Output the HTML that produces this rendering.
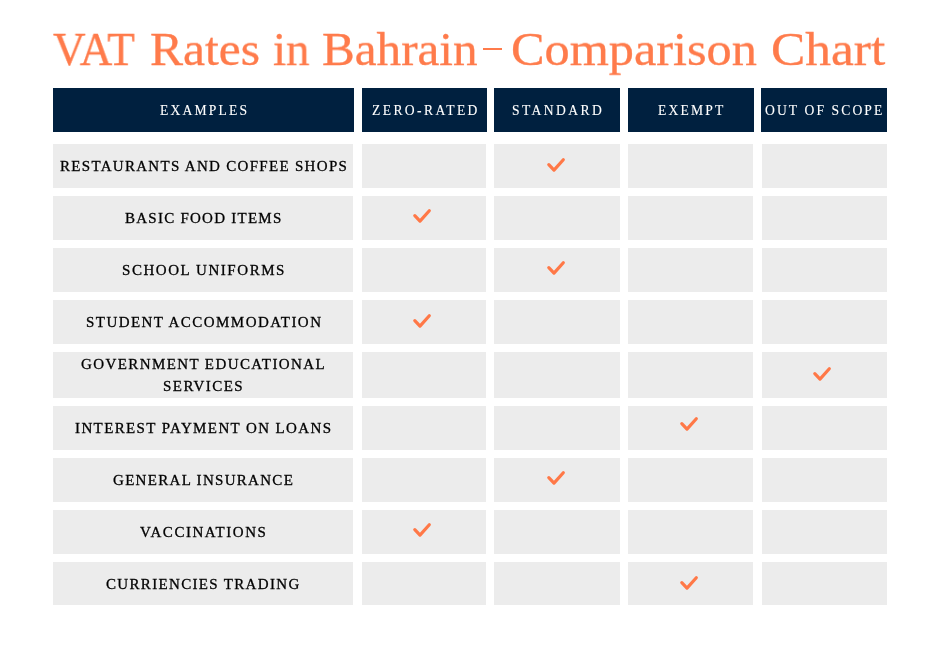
<!DOCTYPE html>
<html><head><meta charset="utf-8"><style>
html,body{margin:0;padding:0;background:#fff;-webkit-font-smoothing:antialiased;}
.c span,.h span,.w{will-change:transform;}
body{width:936px;height:661px;position:relative;overflow:hidden;font-family:"Liberation Serif",serif;}
.w{position:absolute;top:25px;white-space:nowrap;color:#FF7B4B;font-size:48px;line-height:48px;transform-origin:0 40.2px;-webkit-text-stroke:0.35px #FF7B4B;}
.h{position:absolute;background:#00203F;color:#fff;-webkit-text-stroke:0.1px #fff;display:flex;align-items:center;justify-content:center;font-size:13.6px;line-height:16px;}
.h span{position:relative;top:1px;}
.c{position:absolute;background:#ECECEC;-webkit-text-stroke:0.3px #000;display:flex;align-items:center;justify-content:center;text-align:center;color:#000;font-size:15px;letter-spacing:1.3px;line-height:22px;}
.k{position:absolute;width:20px;height:16px;}
</style></head><body>

<div class="w" style="left:53.00px;transform:scale(0.9391,0.97)">VAT</div>
<div class="w" style="left:149.87px;transform:scale(1.0324,0.97)">Rates</div>
<div class="w" style="left:273.20px;transform:scale(0.9811,0.97)">in</div>
<div class="w" style="left:322.38px;transform:scale(1.0238,0.97)">Bahrain</div>
<div class="w" style="left:511.25px;transform:scale(1.0479,0.97)">Comparison</div>
<div class="w" style="left:770.93px;transform:scale(1.0708,0.97)">Chart</div>
<div style="position:absolute;left:483px;top:48px;width:19px;height:2.2px;background:#FF7B4B"></div>
<div class="h" style="left:53px;top:88px;width:301px;height:44px"><span style="letter-spacing:2.2px;margin-right:-2.2px">EXAMPLES</span></div>
<div class="h" style="left:362px;top:88px;width:125px;height:44px"><span style="letter-spacing:2.4px;margin-right:-2.4px">ZERO-RATED</span></div>
<div class="h" style="left:494px;top:88px;width:126px;height:44px"><span style="letter-spacing:2.4px;margin-right:-2.4px">STANDARD</span></div>
<div class="h" style="left:628px;top:88px;width:126px;height:44px"><span style="letter-spacing:2.2px;margin-right:-2.2px">EXEMPT</span></div>
<div class="h" style="left:761px;top:88px;width:126px;height:44px"><span style="letter-spacing:2.1px;margin-right:-2.1px">OUT OF SCOPE</span></div>
<div class="c" style="left:53px;top:144px;width:300px;height:44px"><span style="letter-spacing:1.3px;margin-right:-1.3px">RESTAURANTS AND COFFEE SHOPS</span></div>
<div class="c" style="left:362px;top:144px;width:124px;height:44px"></div>
<div class="c" style="left:494px;top:144px;width:126px;height:44px"></div>
<div class="c" style="left:628px;top:144px;width:125px;height:44px"></div>
<div class="c" style="left:762px;top:144px;width:125px;height:44px"></div>
<div class="c" style="left:53px;top:196px;width:300px;height:44px"><span style="letter-spacing:1.25px;margin-right:-1.25px">BASIC FOOD ITEMS</span></div>
<div class="c" style="left:362px;top:196px;width:124px;height:44px"></div>
<div class="c" style="left:494px;top:196px;width:126px;height:44px"></div>
<div class="c" style="left:628px;top:196px;width:125px;height:44px"></div>
<div class="c" style="left:762px;top:196px;width:125px;height:44px"></div>
<div class="c" style="left:53px;top:248px;width:300px;height:44px"><span style="letter-spacing:1.55px;margin-right:-1.55px">SCHOOL UNIFORMS</span></div>
<div class="c" style="left:362px;top:248px;width:124px;height:44px"></div>
<div class="c" style="left:494px;top:248px;width:126px;height:44px"></div>
<div class="c" style="left:628px;top:248px;width:125px;height:44px"></div>
<div class="c" style="left:762px;top:248px;width:125px;height:44px"></div>
<div class="c" style="left:53px;top:300px;width:300px;height:44px"><span style="letter-spacing:1.45px;margin-right:-1.45px">STUDENT ACCOMMODATION</span></div>
<div class="c" style="left:362px;top:300px;width:124px;height:44px"></div>
<div class="c" style="left:494px;top:300px;width:126px;height:44px"></div>
<div class="c" style="left:628px;top:300px;width:125px;height:44px"></div>
<div class="c" style="left:762px;top:300px;width:125px;height:44px"></div>
<div class="c" style="left:53px;top:352px;width:300px;height:46px"><span style="letter-spacing:1.4px;margin-right:-1.4px">GOVERNMENT EDUCATIONAL<br>SERVICES</span></div>
<div class="c" style="left:362px;top:352px;width:124px;height:46px"></div>
<div class="c" style="left:494px;top:352px;width:126px;height:46px"></div>
<div class="c" style="left:628px;top:352px;width:125px;height:46px"></div>
<div class="c" style="left:762px;top:352px;width:125px;height:46px"></div>
<div class="c" style="left:53px;top:406px;width:300px;height:44px"><span style="letter-spacing:1.38px;margin-right:-1.38px">INTEREST PAYMENT ON LOANS</span></div>
<div class="c" style="left:362px;top:406px;width:124px;height:44px"></div>
<div class="c" style="left:494px;top:406px;width:126px;height:44px"></div>
<div class="c" style="left:628px;top:406px;width:125px;height:44px"></div>
<div class="c" style="left:762px;top:406px;width:125px;height:44px"></div>
<div class="c" style="left:53px;top:458px;width:300px;height:44px"><span style="letter-spacing:1.3px;margin-right:-1.3px">GENERAL INSURANCE</span></div>
<div class="c" style="left:362px;top:458px;width:124px;height:44px"></div>
<div class="c" style="left:494px;top:458px;width:126px;height:44px"></div>
<div class="c" style="left:628px;top:458px;width:125px;height:44px"></div>
<div class="c" style="left:762px;top:458px;width:125px;height:44px"></div>
<div class="c" style="left:53px;top:510px;width:300px;height:44px"><span style="letter-spacing:1.55px;margin-right:-1.55px">VACCINATIONS</span></div>
<div class="c" style="left:362px;top:510px;width:124px;height:44px"></div>
<div class="c" style="left:494px;top:510px;width:126px;height:44px"></div>
<div class="c" style="left:628px;top:510px;width:125px;height:44px"></div>
<div class="c" style="left:762px;top:510px;width:125px;height:44px"></div>
<div class="c" style="left:53px;top:562px;width:300px;height:43px"><span style="letter-spacing:1.33px;margin-right:-1.33px">CURRIENCIES TRADING</span></div>
<div class="c" style="left:362px;top:562px;width:124px;height:43px"></div>
<div class="c" style="left:494px;top:562px;width:126px;height:43px"></div>
<div class="c" style="left:628px;top:562px;width:125px;height:43px"></div>
<div class="c" style="left:762px;top:562px;width:125px;height:43px"></div>
<svg class="k" style="left:545.8px;top:156.9px" viewBox="-1 -1 20 16"><path d="M1.8,6.6 L7.0,12.1 L16.3,1.7" fill="none" stroke="#FF7847" stroke-width="3.2" stroke-linecap="round" stroke-linejoin="round"/></svg>
<svg class="k" style="left:412.4px;top:208.1px" viewBox="-1 -1 20 16"><path d="M1.8,6.6 L7.0,12.1 L16.3,1.7" fill="none" stroke="#FF7847" stroke-width="3.2" stroke-linecap="round" stroke-linejoin="round"/></svg>
<svg class="k" style="left:545.8px;top:259.9px" viewBox="-1 -1 20 16"><path d="M1.8,6.6 L7.0,12.1 L16.3,1.7" fill="none" stroke="#FF7847" stroke-width="3.2" stroke-linecap="round" stroke-linejoin="round"/></svg>
<svg class="k" style="left:412.4px;top:312.9px" viewBox="-1 -1 20 16"><path d="M1.8,6.6 L7.0,12.1 L16.3,1.7" fill="none" stroke="#FF7847" stroke-width="3.2" stroke-linecap="round" stroke-linejoin="round"/></svg>
<svg class="k" style="left:811.9px;top:365.8px" viewBox="-1 -1 20 16"><path d="M1.8,6.6 L7.0,12.1 L16.3,1.7" fill="none" stroke="#FF7847" stroke-width="3.2" stroke-linecap="round" stroke-linejoin="round"/></svg>
<svg class="k" style="left:679.4px;top:415.8px" viewBox="-1 -1 20 16"><path d="M1.8,6.6 L7.0,12.1 L16.3,1.7" fill="none" stroke="#FF7847" stroke-width="3.2" stroke-linecap="round" stroke-linejoin="round"/></svg>
<svg class="k" style="left:545.8px;top:469.9px" viewBox="-1 -1 20 16"><path d="M1.8,6.6 L7.0,12.1 L16.3,1.7" fill="none" stroke="#FF7847" stroke-width="3.2" stroke-linecap="round" stroke-linejoin="round"/></svg>
<svg class="k" style="left:412.4px;top:522.2px" viewBox="-1 -1 20 16"><path d="M1.8,6.6 L7.0,12.1 L16.3,1.7" fill="none" stroke="#FF7847" stroke-width="3.2" stroke-linecap="round" stroke-linejoin="round"/></svg>
<svg class="k" style="left:679.4px;top:574.7px" viewBox="-1 -1 20 16"><path d="M1.8,6.6 L7.0,12.1 L16.3,1.7" fill="none" stroke="#FF7847" stroke-width="3.2" stroke-linecap="round" stroke-linejoin="round"/></svg>
</body></html>
